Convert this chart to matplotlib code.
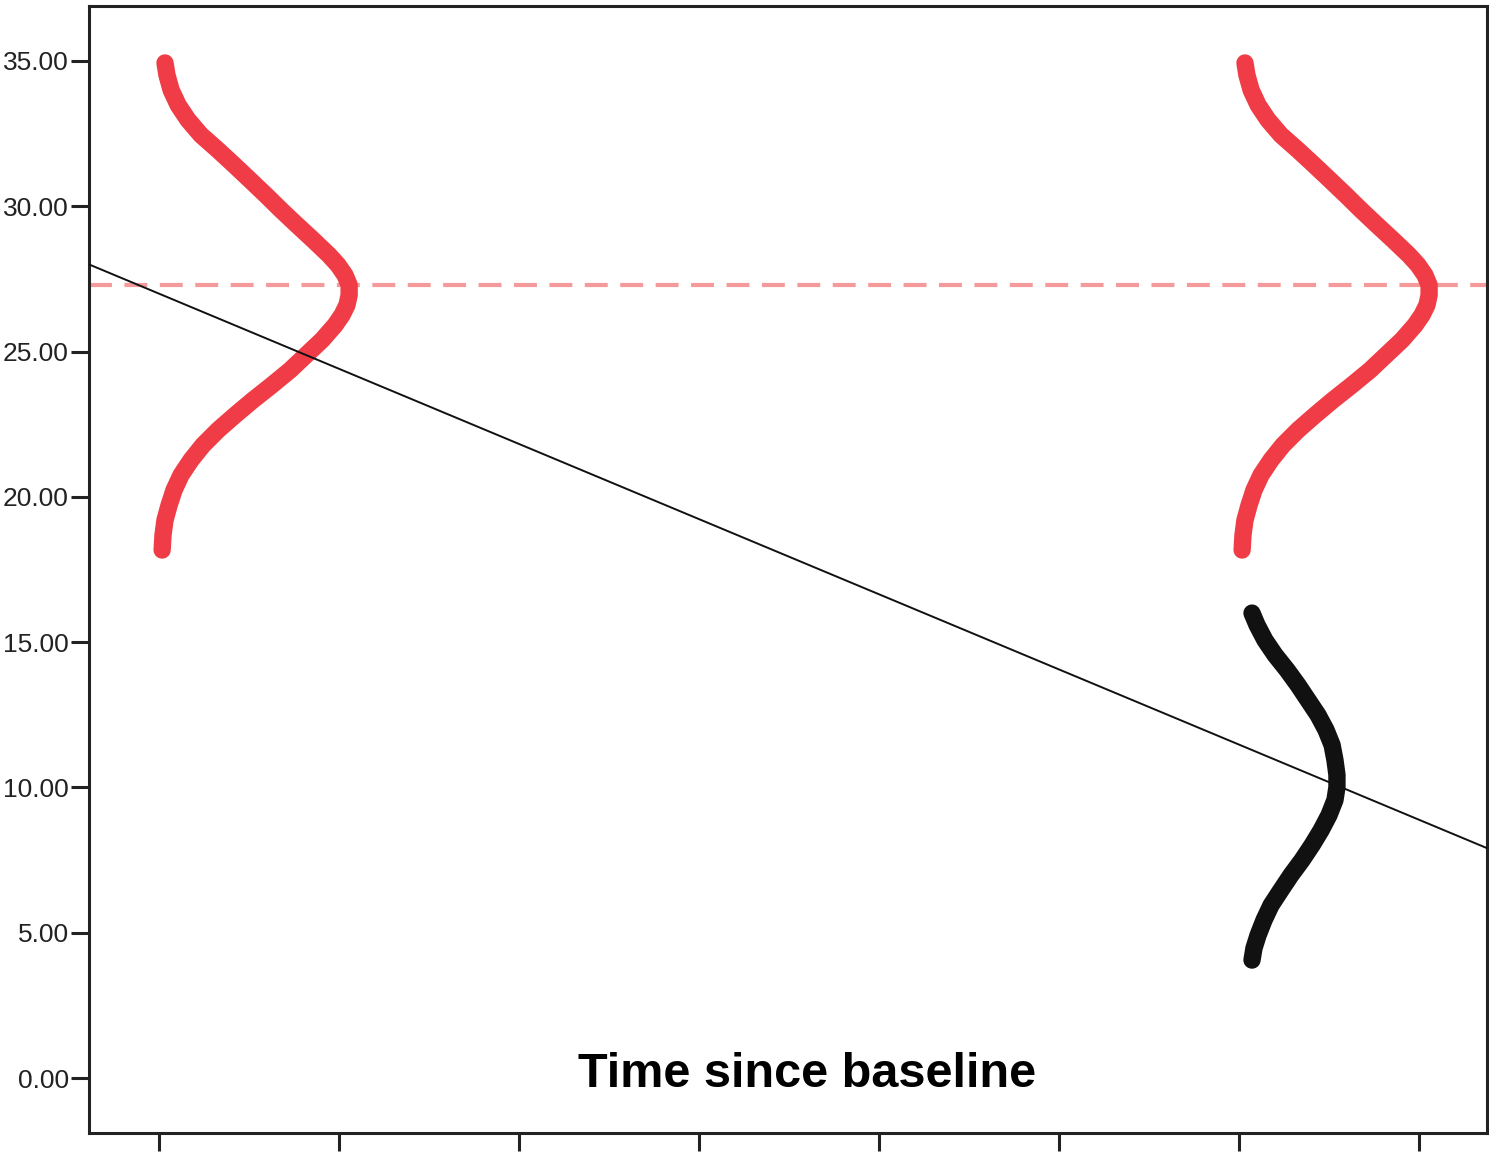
import matplotlib.pyplot as plt
from matplotlib.ticker import FormatStrFormatter

Y_TICKS = [0, 5, 10, 15, 20, 25, 30, 35]
X_TICKS = [0, 1, 2, 3, 4, 5, 6, 7]

# red density curves (same shape drawn at two time points)
RED_DX = [0.033, 0.044, 0.067, 0.106, 0.161, 0.233, 0.328, 0.417, 0.506,
          0.594, 0.678, 0.767, 0.856, 0.944, 0.994, 1.033, 1.056, 1.056,
          1.044, 1.017, 0.978, 0.906, 0.817, 0.728, 0.628, 0.522, 0.422,
          0.328, 0.244, 0.178, 0.122, 0.083, 0.056, 0.033, 0.022, 0.017]
RED_Y = [34.93, 34.51, 34.00, 33.48, 32.97, 32.45, 31.93, 31.42, 30.90,
         30.38, 29.87, 29.35, 28.84, 28.32, 27.98, 27.63, 27.29, 26.94,
         26.60, 26.26, 25.91, 25.40, 24.88, 24.36, 23.85, 23.33, 22.81,
         22.30, 21.78, 21.27, 20.75, 20.23, 19.72, 19.20, 18.69, 18.17]
RED_BASES = [0, 6]

# black density curve at the last time point
BLACK_X = [6.072, 6.100, 6.144, 6.200, 6.267, 6.328, 6.383, 6.439, 6.483,
           6.517, 6.533, 6.544, 6.544, 6.533, 6.500, 6.456, 6.406, 6.350,
           6.289, 6.233, 6.178, 6.139, 6.106, 6.083, 6.072]
BLACK_Y = [16.00, 15.59, 15.07, 14.56, 14.04, 13.52, 13.01, 12.49, 11.98,
           11.46, 10.94, 10.43, 10.01, 9.57, 9.05, 8.53, 8.02, 7.50,
           6.99, 6.47, 5.95, 5.44, 4.92, 4.47, 4.06]

# trend line and reference level
TREND_X = [-0.39, 7.39]
TREND_Y = [28.0, 7.88]
REF_LEVEL = 27.3

plt.rcParams['font.family'] = ['Liberation Sans', 'DejaVu Sans']

fig = plt.figure(figsize=(14.89, 11.54), dpi=100)
ax = fig.add_axes([0.0598, 0.0182, 0.9389, 0.9766])

ax.axhline(REF_LEVEL, color='#F59A9A', lw=3, dashes=(5.5, 3), zorder=1)

for base in RED_BASES:
    ax.plot([base + d for d in RED_DX], RED_Y, color='#F03C46', lw=12.5,
            solid_capstyle='round', solid_joinstyle='round', zorder=2)

ax.plot(BLACK_X, BLACK_Y, color='#111111', lw=12.5,
        solid_capstyle='round', solid_joinstyle='round', zorder=2)

ax.plot(TREND_X, TREND_Y, color='#111111', lw=1.4, zorder=3)

ax.text(0.5136, 0.0408, "Time since baseline", transform=ax.transAxes,
        ha='center', va='baseline', fontsize=35, fontweight='bold')

ax.set_xlim(-0.389, 7.378)
ax.set_ylim(-1.89, 36.89)
ax.set_xticks(X_TICKS)
ax.set_xticklabels([])
ax.set_yticks(Y_TICKS)
ax.yaxis.set_major_formatter(FormatStrFormatter('%.2f'))

for s in ax.spines.values():
    s.set_linewidth(2.2)
    s.set_color('#222222')
ax.tick_params(axis='both', length=13, width=2.2, color='#222222')
ax.tick_params(axis='y', labelsize=19, labelcolor='#222222', pad=1.5)

fig.savefig('out.png', dpi=100)
